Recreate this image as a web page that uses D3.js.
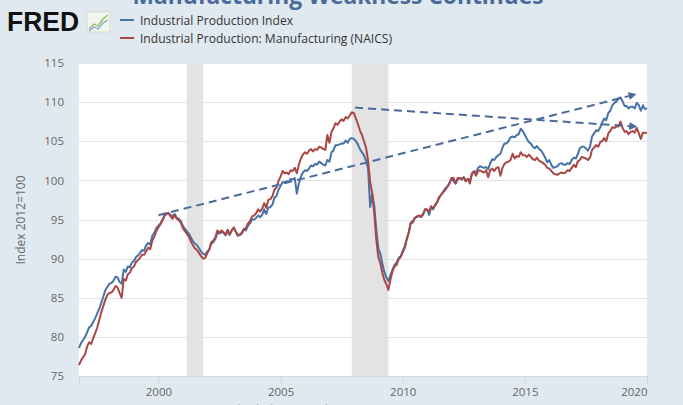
<!DOCTYPE html>
<html><head><meta charset="utf-8">
<script src="https://cdn.jsdelivr.net/npm/d3@7"></script>
<style>html,body{margin:0;padding:0;background:#e1e9f0;}svg{display:block;}</style>
</head><body>
<script>
// ---- data (monthly, starting Oct 1996) ----
const startMonth = "1996-10";
const industrialProduction = [
 78.6,79.2,79.6,
 80.0,80.6,81.2,81.4,81.9,82.4,83.0,83.6,84.4,85.2,86.0,86.4,
 86.8,86.9,87.2,87.7,87.6,87.0,86.8,88.6,88.3,89.0,88.9,89.5,
 89.7,90.2,90.4,90.7,91.1,91.0,91.7,92.0,91.8,92.9,93.3,93.9,
 94.2,94.5,94.9,95.5,95.7,95.8,95.6,95.4,95.7,95.2,95.1,94.8,
 94.2,93.8,93.5,93.2,92.7,92.2,91.9,91.7,91.3,90.9,90.6,90.5,
 90.9,91.2,91.9,92.1,92.5,93.3,93.2,93.4,93.3,93.0,93.5,93.0,
 93.6,93.9,93.5,92.9,93.0,93.2,93.7,93.6,94.2,94.5,95.0,95.0,
 95.2,95.5,95.3,95.6,96.3,95.7,96.5,96.6,96.9,97.8,98.0,98.8,
 99.3,99.8,99.7,99.9,99.8,100.2,100.1,100.3,98.3,99.6,100.5,101.0,
 101.3,101.2,101.5,101.9,101.8,102.1,102.0,102.4,102.2,102.0,101.9,102.6,
 102.4,103.6,103.8,104.5,104.5,104.6,104.7,104.7,105.1,104.8,105.3,105.4,
 105.3,105.0,104.6,104.0,103.6,103.2,102.5,101.5,96.6,98.3,96.8,93.8,
 91.3,90.6,89.4,88.3,87.6,87.1,87.9,88.6,89.2,89.5,90.1,90.3,
 91.0,91.6,92.5,93.4,94.6,94.8,95.2,95.3,95.5,95.3,95.6,96.3,
 96.2,95.6,96.6,96.3,96.9,97.3,97.9,98.2,98.6,99.0,99.2,99.7,
 100.2,99.9,99.6,100.1,100.3,100.1,100.4,99.9,100.2,99.9,100.8,101.2,
 101.0,101.6,101.8,101.7,101.6,101.7,101.4,102.2,102.7,102.6,103.0,103.2,
 103.4,104.2,104.7,104.7,105.0,105.5,105.6,105.5,105.8,105.9,106.6,106.3,
 105.8,105.3,104.9,104.7,104.3,104.1,104.4,104.0,103.8,103.4,102.9,102.3,
 102.6,102.0,101.6,101.7,101.8,102.1,102.2,102.0,102.0,102.2,102.1,102.6,
 102.9,102.8,103.3,104.1,104.3,104.3,104.1,103.8,104.3,105.6,106.0,106.4,
 106.3,106.8,107.4,107.9,107.7,108.6,108.9,109.6,109.9,110.1,110.5,110.6,
 110.1,109.5,109.5,109.2,109.4,109.4,109.2,109.9,109.6,108.9,109.6,109.1,
 109.2
];
const manufacturing = [
 76.4,77.0,77.4,
 77.8,78.8,79.3,79.1,79.8,80.5,81.2,82.2,83.2,84.0,84.8,85.4,
 85.6,85.7,86.0,86.5,86.3,85.6,85.0,87.4,87.2,88.0,88.2,88.8,
 89.0,89.6,89.8,90.1,90.5,90.5,90.9,91.4,91.2,92.3,92.8,93.5,
 94.0,94.4,94.9,95.5,95.8,95.8,95.4,95.1,95.6,95.1,94.9,94.6,
 93.9,93.5,93.2,92.8,92.2,91.7,91.3,91.1,90.7,90.3,90.0,90.1,
 90.7,91.2,92.1,92.3,92.7,93.6,93.3,93.6,93.4,93.0,93.7,93.1,
 93.6,94.0,93.5,93.0,93.1,93.3,93.8,93.9,94.5,94.8,95.4,95.5,
 95.8,96.3,96.0,96.4,97.1,96.5,97.5,97.6,98.0,98.8,99.1,99.9,
 100.5,101.2,100.9,101.0,100.8,101.3,101.2,101.6,100.9,102.0,102.8,103.3,
 103.6,103.4,103.8,104.0,103.7,104.0,103.9,104.3,104.2,104.0,103.9,105.8,
 104.8,106.2,106.6,107.3,107.1,107.5,107.8,107.6,108.1,107.9,108.3,108.7,
 108.6,107.9,107.2,106.4,105.8,105.0,104.2,102.5,99.8,98.4,95.8,92.5,
 90.2,89.4,88.2,87.3,86.7,86.0,87.3,88.4,89.0,89.2,89.9,90.2,
 90.8,91.4,92.4,93.3,94.5,94.6,95.2,95.4,95.5,95.4,95.7,96.3,
 96.3,96.0,96.7,96.4,96.8,97.2,97.8,98.2,98.5,98.8,99.2,99.6,
 100.3,100.3,99.6,100.3,100.3,100.2,100.4,99.9,100.2,99.6,100.9,101.1,
 100.6,101.2,101.3,101.1,101.0,101.3,100.4,101.3,101.5,101.2,101.6,101.7,
 100.6,101.6,102.1,102.3,102.4,102.6,103.4,102.8,103.1,103.0,103.6,103.2,
 103.2,103.0,103.3,103.0,102.7,102.6,102.9,102.5,102.4,102.2,102.0,101.6,
 101.5,101.2,100.9,100.8,100.7,100.9,101.0,100.9,101.0,101.3,101.2,101.6,
 102.0,101.7,102.4,102.6,103.0,102.9,102.8,102.6,102.9,103.9,104.2,104.5,
 104.3,104.9,105.0,105.4,105.0,106.0,106.3,106.8,106.7,106.9,106.9,107.5,
 106.7,106.2,106.3,105.9,106.2,106.3,106.1,106.7,106.0,105.3,106.1,106.1,
 106.0
];
const seriesNames = ["Industrial Production Index", "Industrial Production: Manufacturing (NAICS)"];
const seriesColors = ["#4572a7", "#aa4643"];
const recessions = [["2001-03-01", "2001-11-01"], ["2007-12-01", "2009-06-01"]];
const yTicks = [75, 80, 85, 90, 95, 100, 105, 110, 115];
const xTickYears = [2000, 2005, 2010, 2015, 2020];
const arrowStarts = [["2000-01-01", 95.55], ["2008-01-20", 109.3]];
const arrowEnds = [["2019-06-01", 110.9], ["2019-06-10", 106.9]];
const titleText = "Manufacturing Weakness Continues";
const yAxisTitle = "Index 2012=100";
const footnote = "Shaded areas indicate U.S. recessions";

// ---- layout ----
const W = 683, H = 405;
const plot = {left: 79, right: 647, top: 63, bottom: 376};
const parse = d3.timeParse("%Y-%m-%d");
const start = d3.timeParse("%Y-%m")(startMonth);
const dates = industrialProduction.map((_, i) => d3.timeMonth.offset(start, i));

const svg = d3.select("body").append("svg").attr("width", W).attr("height", H);
svg.append("rect").attr("width", W).attr("height", H).attr("fill", "#e1e9f0");

const x = d3.scaleTime().domain([dates[0], dates[dates.length - 1]]).range([plot.left, plot.right]);
const y = d3.scaleLinear().domain([75, 115]).range([plot.bottom, plot.top]);

// title (cut off at top)
svg.append("text").attr("x", 338).attr("y", 4).attr("text-anchor", "middle")
  .attr("font-family", "Open Sans, sans-serif").attr("font-weight", "bold").attr("font-size", 24)
  .attr("fill", "#4a6a9c").attr("textLength", 411).attr("lengthAdjust", "spacingAndGlyphs")
  .text(titleText);

// FRED logo
svg.append("text").attr("x", 7).attr("y", 31)
  .attr("font-family", "Liberation Sans, Arial, sans-serif").attr("font-weight", "bold").attr("font-size", 27)
  .attr("fill", "#111").attr("textLength", 72).attr("lengthAdjust", "spacingAndGlyphs").text("FRED");
const logo = svg.append("g").attr("transform", "translate(87,12)");
logo.append("rect").attr("width", 23).attr("height", 20).attr("fill", "#f2f5ee").attr("stroke", "#d6dccf");
logo.append("polyline").attr("points", "2,17 7,12 11,14 16,7 21,3").attr("fill", "none").attr("stroke", "#8dbb6a").attr("stroke-width", 1.3);
logo.append("polyline").attr("points", "2,19 7,15 11,17 16,11 21,8").attr("fill", "none").attr("stroke", "#7fa6c9").attr("stroke-width", 1.2);

// legend
const legendLens = [153, 252];
seriesNames.forEach((name, i) => {
  const ly = 20 + i * 18;
  svg.append("line").attr("x1", 120).attr("x2", 134).attr("y1", ly).attr("y2", ly)
    .attr("stroke", seriesColors[i]).attr("stroke-width", 2);
  svg.append("text").attr("x", 140).attr("y", ly + 4.5)
    .attr("font-family", "Open Sans, sans-serif").attr("font-size", 12.5).attr("fill", "#333")
    .attr("textLength", legendLens[i]).attr("lengthAdjust", "spacingAndGlyphs").text(name);
});

// plot background
svg.append("rect").attr("x", plot.left).attr("y", plot.top)
  .attr("width", plot.right - plot.left).attr("height", plot.bottom - plot.top).attr("fill", "#fff");

// gridlines
svg.append("g").selectAll("line").data(yTicks.filter(t => t > 75)).join("line")
  .attr("x1", plot.left).attr("x2", plot.right)
  .attr("y1", d => Math.round(y(d)) + 0.5).attr("y2", d => Math.round(y(d)) + 0.5)
  .attr("stroke", "#e3e3e3").attr("stroke-width", 1);

// recession shading
svg.append("g").selectAll("rect").data(recessions).join("rect")
  .attr("x", d => x(parse(d[0]))).attr("y", plot.top)
  .attr("width", d => x(parse(d[1])) - x(parse(d[0])))
  .attr("height", plot.bottom - plot.top).attr("fill", "#e3e3e3");

// y axis labels
const yAxis = d3.axisLeft(y).tickValues(yTicks).tickSize(0).tickPadding(0).tickFormat(d3.format("d"));
const gy = svg.append("g").attr("transform", `translate(${plot.left - 15},0)`).call(yAxis);
gy.select(".domain").remove();
gy.selectAll("text").attr("font-family", "Open Sans, sans-serif").attr("font-size", 11.5).attr("fill", "#666");

// x axis
const xAxis = d3.axisBottom(x).tickValues(xTickYears.map(yr => new Date(yr, 0, 1)))
  .tickSize(8).tickPadding(4).tickFormat(d3.timeFormat("%Y"));
const gx = svg.append("g").attr("transform", `translate(0,${plot.bottom})`).call(xAxis);
gx.select(".domain").attr("stroke", "#ccd6eb");
gx.selectAll(".tick line").attr("stroke", "#ccd6eb");
gx.selectAll("text").attr("font-family", "Open Sans, sans-serif").attr("font-size", 11.5).attr("fill", "#666")
  .attr("text-anchor", (d, i, n) => i === n.length - 1 ? "end" : "middle");

// y axis title
svg.append("text").attr("transform", "translate(25,220) rotate(-90)").attr("text-anchor", "middle")
  .attr("font-family", "Open Sans, sans-serif").attr("font-size", 12).attr("fill", "#666").text(yAxisTitle);

// series lines
const line = d3.line().x((d, i) => x(dates[i])).y(d => y(d));
[industrialProduction, manufacturing].forEach((s, i) => {
  svg.append("path").datum(s).attr("d", line).attr("fill", "none")
    .attr("stroke", seriesColors[i]).attr("stroke-width", 2).attr("stroke-linejoin", "round");
});
// draw blue on top for the hurricane dip visibility
svg.append("path").datum(industrialProduction).attr("d", line).attr("fill", "none")
  .attr("stroke", seriesColors[0]).attr("stroke-width", 2).attr("stroke-linejoin", "round")
  .attr("opacity", 0);

// annotation arrows
const defs = svg.append("defs");
defs.append("marker").attr("id", "arrow").attr("viewBox", "0 0 10 10").attr("refX", 5).attr("refY", 5)
  .attr("markerWidth", 4).attr("markerHeight", 4).attr("orient", "auto")
  .append("path").attr("d", "M0,0 L10,5 L0,10 z").attr("fill", "#4a6a9c");
arrowStarts.forEach((s, i) => {
  const e = arrowEnds[i];
  svg.append("line")
    .attr("x1", x(parse(s[0]))).attr("y1", y(s[1]))
    .attr("x2", x(parse(e[0]))).attr("y2", y(e[1]))
    .attr("stroke", "#4a6a9c").attr("stroke-width", 2).attr("stroke-dasharray", "8,5")
    .attr("marker-end", "url(#arrow)");
});

// footnote (cut off at bottom)
svg.append("text").attr("x", 336).attr("y", 414).attr("text-anchor", "middle")
  .attr("font-family", "Open Sans, sans-serif").attr("font-size", 12).attr("fill", "#9aaac0").text(footnote);
</script>
</body></html>
